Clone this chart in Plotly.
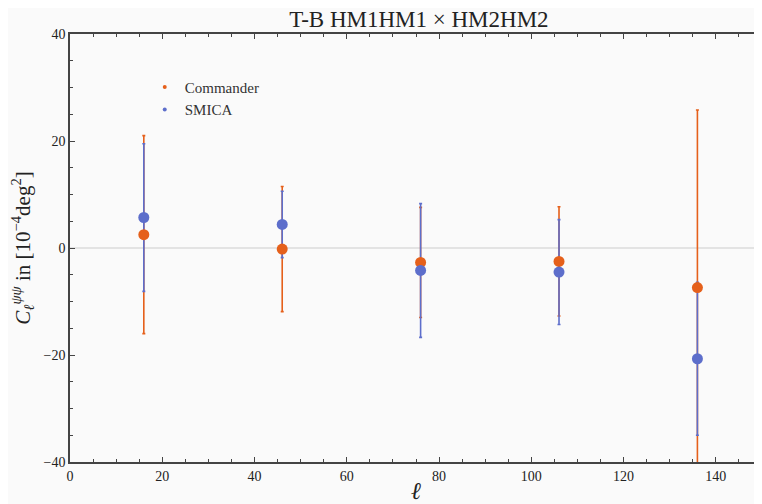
import plotly.graph_objects as go

ell = [16, 46, 76, 106, 136]
commander_vals = [2.5, -0.2, -2.7, -2.5, -7.4]
commander_err = [18.5, 11.7, 10.3, 10.2, 33.2]
smica_vals = [5.7, 4.4, -4.2, -4.5, -20.7]
smica_err = [13.8, 6.2, 12.5, 9.8, 14.3]

x_ticks = [0, 20, 40, 60, 80, 100, 120, 140]
y_ticks = [-40, -20, 0, 20, 40]

orange = "#E5601B"
blue = "#5D6ECB"
serif = "Liberation Serif, DejaVu Serif, serif"

fig = go.Figure()

# error bars
fig.add_trace(go.Scatter(
    x=ell, y=commander_vals, mode="markers",
    marker=dict(size=10, color=orange, opacity=0),
    error_y=dict(type="data", array=commander_err, color=orange, thickness=1.6, width=1.5),
    showlegend=False, hoverinfo="skip"))
fig.add_trace(go.Scatter(
    x=ell, y=smica_vals, mode="markers",
    marker=dict(size=10, color=blue, opacity=0),
    error_y=dict(type="data", array=smica_err, color=blue, thickness=1.6, width=1.5),
    showlegend=False, hoverinfo="skip"))
# markers
fig.add_trace(go.Scatter(x=ell, y=commander_vals, mode="markers",
                         marker=dict(size=11, color=orange), showlegend=False))
fig.add_trace(go.Scatter(x=ell, y=smica_vals, mode="markers",
                         marker=dict(size=11, color=blue), showlegend=False))
# legend entries
fig.add_trace(go.Scatter(x=[None], y=[None], mode="markers", name="Commander",
                         marker=dict(size=4, color=orange)))
fig.add_trace(go.Scatter(x=[None], y=[None], mode="markers", name="SMICA",
                         marker=dict(size=4, color=blue)))

axis_common = dict(
    showgrid=False, zeroline=False, showline=True, linecolor="#444", linewidth=1.5,
    mirror="ticks", ticks="inside", ticklen=5, tickcolor="#444", tickwidth=1,
    tickfont=dict(family=serif, size=14, color="#222"), automargin=False,
)

# page body has an 8px default margin, so the figure is sized to fill the rest
fig.update_layout(
    width=754, height=496,
    margin=dict(l=62, r=0, t=26, b=42),
    paper_bgcolor="#FAFAFA", plot_bgcolor="#FAFAFA",
    title=dict(text="T-B HM1HM1 × HM2HM2", x=0.545, xanchor="center", y=0.977, yanchor="middle",
               font=dict(family=serif, size=23, color="#222")),
    legend=dict(x=0.108, y=0.914, xanchor="left", yanchor="top", bgcolor="rgba(0,0,0,0)",
                font=dict(family=serif, size=15, color="#333"), tracegroupgap=2, itemwidth=30),
    xaxis=dict(range=[0, 150], tickvals=x_ticks,
               minor=dict(dtick=5, ticks="inside", ticklen=3, tickcolor="#444"),
               title=dict(text="<i>ℓ</i>", font=dict(family=serif, size=24, color="#222"), standoff=0),
               **axis_common),
    yaxis=dict(range=[-40, 40], tickvals=y_ticks,
               minor=dict(dtick=5, ticks="inside", ticklen=3, tickcolor="#444"),
               title=dict(text="<i>C</i><sub><i>ℓ</i></sub><sup><i>ψψ</i></sup> in [10<sup>−4</sup>deg<sup>2</sup>]",
                          font=dict(family=serif, size=21, color="#222"), standoff=13),
               **axis_common),
    shapes=[dict(type="line", xref="paper", x0=0, x1=1, yref="y", y0=0, y1=0,
                 line=dict(color="#CCCCCC", width=1.2), layer="below")],
)

fig.write_html("out.html")
